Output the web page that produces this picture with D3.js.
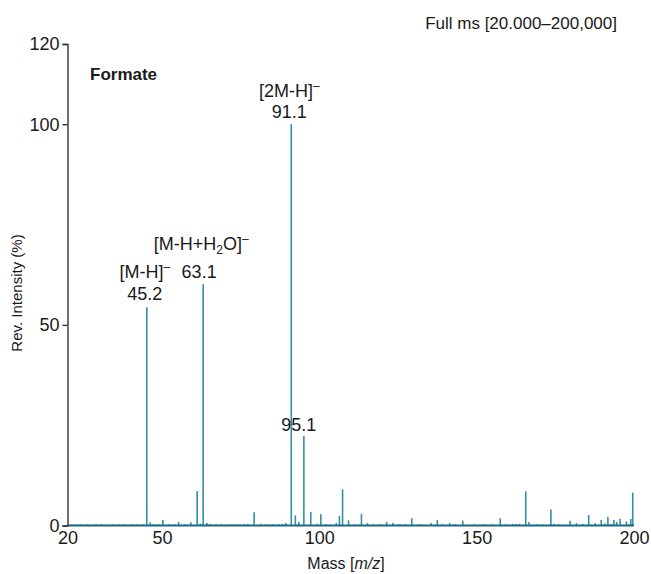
<!DOCTYPE html>
<html>
<head>
<meta charset="utf-8">
<script src="https://cdn.jsdelivr.net/npm/d3@7"></script>
<style>
  html, body { margin: 0; padding: 0; background: #fff; }
  svg text { font-family: "Liberation Sans", Arial, sans-serif; fill: #1a1a1a; }
</style>
</head>
<body>
<svg id="chart" width="651" height="574"></svg>
<script>
// Formate negative-ion mass spectrum, full scan m/z 20–200
const xDomain = [20, 200];
const yDomain = [0, 120];
const xTicks = [20, 50, 100, 150, 200];
const yTicks = [0, 50, 100, 120];

// annotated peaks: m/z and relative intensity (%)
const peakMz = [45.2, 63.1, 91.1, 95.1];
const peakIntensity = [54.4, 60.1, 100, 22.3];
const peakIon = ["[M-H]", "[M-H+H2O]", "[2M-H]", ""];

// minor peaks: m/z and relative intensity (%)
const minorMz = [46.3, 50.3, 55.3, 59.2, 61.2, 62.2, 64.3, 65.3, 73.2, 77.3,
  79.3, 81.4, 87.2, 89.4, 92.4, 93.5, 97.3, 99.4, 100.5, 105.4,
  106.4, 107.4, 109.3, 113.4, 115.3, 121.4, 123.4, 129.4, 135.5, 137.5,
  141.4, 145.6, 157.5, 161.6, 162.6, 163.6, 165.6, 166.6, 173.6, 174.6,
  179.7, 181.7, 183.7, 185.6, 187.7, 189.6, 190.7, 191.7, 192.6, 193.6,
  194.5, 195.6, 197.6, 199.0, 199.6];
const minorIntensity = [0.8, 1.4, 0.9, 0.8, 8.6, 0.5, 0.6, 0.4, 0.3, 0.4,
  3.3, 0.4, 0.3, 0.6, 2.5, 0.9, 3.4, 0.4, 2.8, 0.6,
  2.4, 9.0, 1.3, 2.9, 0.6, 0.9, 0.6, 1.8, 0.6, 1.4,
  0.6, 1.2, 1.8, 0.4, 0.4, 0.4, 8.5, 0.9, 4.0, 0.4,
  1.2, 0.6, 0.4, 2.6, 0.6, 1.4, 0.5, 2.1, 0.4, 1.4,
  0.9, 1.7, 1.0, 1.6, 8.2];

// baseline noise: m/z and relative intensity (%)
const noiseMz = [21.1, 22.0, 23.2, 24.1, 25.3, 26.2, 27.0, 28.3, 29.1, 30.2,
  31.0, 32.3, 33.1, 34.2, 35.0, 36.3, 37.2, 38.0, 39.1, 40.3,
  41.2, 42.0, 43.1, 44.2, 47.3, 48.2, 49.1, 52.2, 53.1, 54.0,
  57.2, 58.1, 67.2, 68.3, 69.1, 70.2, 71.3, 72.1, 74.2, 75.0,
  76.2, 83.1, 84.2, 85.3, 86.1, 88.3, 102.2, 103.1, 111.2, 112.3,
  117.1, 118.2, 119.3, 125.2, 126.1, 127.3, 131.2, 132.1, 133.3, 139.2,
  143.1, 147.3, 149.2, 151.1, 152.3, 153.2, 155.1, 159.2, 168.1, 169.3,
  171.2, 176.1, 177.3, 198.3];
const noiseIntensity = [0.2, 0.3, 0.2, 0.3, 0.2, 0.3, 0.2, 0.2, 0.3, 0.2,
  0.3, 0.2, 0.2, 0.3, 0.2, 0.3, 0.2, 0.3, 0.2, 0.3,
  0.2, 0.3, 0.2, 0.3, 0.3, 0.2, 0.3, 0.3, 0.2, 0.3,
  0.3, 0.2, 0.3, 0.2, 0.3, 0.2, 0.3, 0.2, 0.3, 0.2,
  0.3, 0.3, 0.2, 0.3, 0.2, 0.3, 0.3, 0.2, 0.3, 0.2,
  0.3, 0.2, 0.3, 0.3, 0.2, 0.3, 0.2, 0.3, 0.2, 0.3,
  0.3, 0.2, 0.3, 0.2, 0.3, 0.2, 0.3, 0.3, 0.2, 0.3,
  0.2, 0.3, 0.2, 0.3];

const svg = d3.select("#chart");
const x = d3.scaleLinear().domain(xDomain).range([67.5, 634]);
const y = d3.scaleLinear().domain(yDomain).range([525.5, 44]);

const stemColor = "#338fa7";
const baseColor = "#1b6a80";

// stems
const stems = [];
noiseMz.forEach((m, i) => stems.push({ mz: m, v: noiseIntensity[i] }));
minorMz.forEach((m, i) => stems.push({ mz: m, v: minorIntensity[i] }));
peakMz.forEach((m, i) => stems.push({ mz: m, v: peakIntensity[i] }));

svg.append("g").selectAll("line").data(stems).join("line")
  .attr("x1", d => x(d.mz)).attr("x2", d => x(d.mz))
  .attr("y1", y(0)).attr("y2", d => y(d.v))
  .attr("stroke", stemColor).attr("stroke-width", 1.6);

// baseline
svg.append("line")
  .attr("x1", x(20)).attr("x2", x(200))
  .attr("y1", y(0)).attr("y2", y(0))
  .attr("stroke", baseColor).attr("stroke-width", 2);

// y axis
const yAxis = svg.append("g")
  .attr("transform", `translate(${x(20)},0)`)
  .call(d3.axisLeft(y).tickValues(yTicks).tickSize(5).tickPadding(3));
yAxis.select(".domain").attr("stroke", "#333").attr("stroke-width", 1.4);
yAxis.selectAll(".tick line").attr("stroke", "#333").attr("stroke-width", 1.4);
yAxis.selectAll(".tick text").attr("font-size", 18).attr("fill", "#1a1a1a")
  .attr("font-family", null);

// x axis (labels only)
const xAxis = svg.append("g")
  .attr("transform", `translate(0,${y(0)})`)
  .call(d3.axisBottom(x).tickValues(xTicks).tickSize(0).tickPadding(6));
xAxis.select(".domain").remove();
xAxis.selectAll(".tick text").attr("font-size", 18).attr("fill", "#1a1a1a")
  .attr("font-family", null);

// axis titles
svg.append("text")
  .attr("transform", "translate(22,293) rotate(-90)")
  .attr("text-anchor", "middle").attr("font-size", 15)
  .text("Rev. Intensity (%)");

const xt = svg.append("text")
  .attr("x", 346).attr("y", 569).attr("text-anchor", "middle").attr("font-size", 16);
xt.append("tspan").text("Mass [");
xt.append("tspan").attr("font-style", "italic").text("m/z");
xt.append("tspan").text("]");

// header texts
svg.append("text").attr("x", 617).attr("y", 29).attr("text-anchor", "end")
  .attr("font-size", 17).text("Full ms [20.000\u2013200,000]");
svg.append("text").attr("x", 90).attr("y", 80).attr("font-size", 17)
  .attr("font-weight", "bold").text("Formate");

// peak annotations
function ionLabel(sel, ion) {
  if (ion === "[M-H+H2O]") {
    sel.append("tspan").text("[M-H+H");
    sel.append("tspan").attr("font-size", 12).attr("dy", 4).text("2");
    sel.append("tspan").attr("dy", -4).text("O]");
  } else {
    sel.append("tspan").text(ion);
  }
  sel.append("tspan").attr("font-size", 12).attr("dy", -7).text("\u2013");
}

const labelFont = 18;
// [2M-H]- 91.1
{
  const px = x(peakMz[2]) - 2;
  ionLabel(svg.append("text").attr("x", px).attr("y", 97).attr("text-anchor", "middle")
    .attr("font-size", labelFont), peakIon[2]);
  svg.append("text").attr("x", px).attr("y", 118).attr("text-anchor", "middle")
    .attr("font-size", labelFont).text(peakMz[2].toFixed(1));
}
// [M-H+H2O]- 63.1
{
  const px = x(peakMz[1]) - 2;
  ionLabel(svg.append("text").attr("x", px).attr("y", 250).attr("text-anchor", "middle")
    .attr("font-size", labelFont), peakIon[1]);
  svg.append("text").attr("x", px - 2).attr("y", 278).attr("text-anchor", "middle")
    .attr("font-size", labelFont).text(peakMz[1].toFixed(1));
}
// [M-H]- 45.2
{
  const px = x(peakMz[0]) - 2;
  ionLabel(svg.append("text").attr("x", px).attr("y", 278).attr("text-anchor", "middle")
    .attr("font-size", labelFont), peakIon[0]);
  svg.append("text").attr("x", px).attr("y", 300).attr("text-anchor", "middle")
    .attr("font-size", labelFont).text(peakMz[0].toFixed(1));
}
// 95.1
svg.append("text").attr("x", x(peakMz[3]) - 5).attr("y", 431).attr("text-anchor", "middle")
  .attr("font-size", labelFont).text(peakMz[3].toFixed(1));
</script>
</body>
</html>
